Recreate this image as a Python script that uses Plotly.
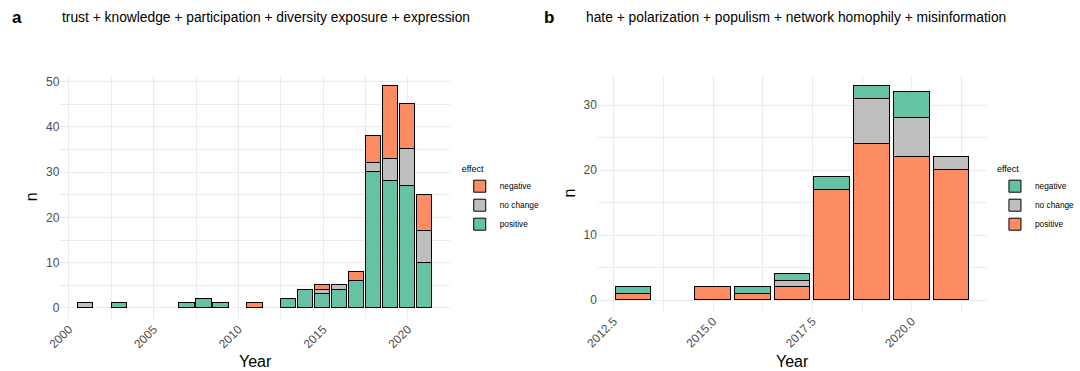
import plotly.graph_objects as go

# ---- data ----
years_a = [2001, 2003, 2007, 2008, 2009, 2011, 2013, 2014, 2015, 2016, 2017, 2018, 2019, 2020, 2021]
positive_a = [0, 1, 1, 2, 1, 0, 2, 4, 3, 4, 6, 30, 28, 27, 10]
nochange_a = [1, 0, 0, 0, 0, 0, 0, 0, 1, 1, 0, 2, 5, 8, 7]
negative_a = [0, 0, 0, 0, 0, 1, 0, 0, 1, 0, 2, 6, 16, 10, 8]

years_b = [2013, 2015, 2016, 2017, 2018, 2019, 2020, 2021]
positive_b = [1, 2, 1, 2, 17, 24, 22, 20]
nochange_b = [0, 0, 0, 1, 0, 7, 6, 2]
negative_b = [1, 0, 1, 1, 2, 2, 4, 0]

title_a = "trust + knowledge + participation + diversity exposure + expression"
title_b = "hate + polarization + populism + network homophily + misinformation"

GREEN = "#66C2A5"
ORANGE = "#FC8D62"
GREY = "#BEBEBE"
FONT = "Liberation Sans, Arial, Helvetica, sans-serif"


def nz(vals):
    return [v if v else None for v in vals]


fig = go.Figure()

for name, vals, col in [("positive", positive_a, GREEN),
                        ("no change", nochange_a, GREY),
                        ("negative", negative_a, ORANGE)]:
    fig.add_trace(go.Bar(x=years_a, y=nz(vals), name=name, width=0.9,
                         marker=dict(color=col, line=dict(color="black", width=1)),
                         xaxis="x", yaxis="y", legend="legend"))

for name, vals, col in [("positive", positive_b, ORANGE),
                        ("no change", nochange_b, GREY),
                        ("negative", negative_b, GREEN)]:
    fig.add_trace(go.Bar(x=years_b, y=nz(vals), name=name, width=0.9,
                         marker=dict(color=col, line=dict(color="black", width=1)),
                         xaxis="x2", yaxis="y2", legend="legend2"))

W, H = 1080, 371
W_EFF = 1064  # effective drawn width observed in the viewer
def px(x):
    return x / W_EFF
def py(y):
    return 1 - y / H

grid = "#EBEBEB"
tickfont = dict(family=FONT, size=12, color="#4D4D4D")

axis_common = dict(showline=False, zeroline=False, ticks="", showgrid=True,
                   gridcolor=grid, gridwidth=1, tickfont=tickfont,
                   automargin=False)

fig.update_layout(
    width=W, height=H, autosize=False,
    margin=dict(l=0, r=0, t=0, b=0),
    paper_bgcolor="white", plot_bgcolor="white",
    barmode="stack", bargap=0,
    font=dict(family=FONT, color="black"),
    xaxis=dict(domain=[px(61.7), px(459.3)], range=[1999.5, 2022.5],
               tickvals=[2000, 2005, 2010, 2015, 2020], tickangle=-45,
               minor=dict(tickvals=[2002.5, 2007.5, 2012.5, 2017.5, 2022.5],
                          showgrid=True, gridcolor=grid, gridwidth=0.6),
               anchor="y", **axis_common),
    yaxis=dict(domain=[py(319), py(75)], range=[-2.45, 51.45],
               tickvals=[0, 10, 20, 30, 40, 50],
               minor=dict(tickvals=[5, 15, 25, 35, 45],
                          showgrid=True, gridcolor=grid, gridwidth=0.6),
               anchor="x", **axis_common),
    xaxis2=dict(domain=[px(610), px(1007)], range=[2012.105, 2021.895],
                tickvals=[2012.5, 2015.0, 2017.5, 2020.0],
                ticktext=["2012.5", "2015.0", "2017.5", "2020.0"], tickangle=-45,
                minor=dict(tickvals=[2013.75, 2016.25, 2018.75, 2021.25],
                           showgrid=True, gridcolor=grid, gridwidth=0.6),
                anchor="y2", **axis_common),
    yaxis2=dict(domain=[py(311), py(75)], range=[-1.65, 34.65],
                tickvals=[0, 10, 20, 30],
                minor=dict(tickvals=[5, 15, 25],
                           showgrid=True, gridcolor=grid, gridwidth=0.6),
                anchor="x2", **axis_common),
    legend=dict(x=px(469), y=py(160), xanchor="left", yanchor="top",
                traceorder="reversed", bgcolor="rgba(0,0,0,0)",
                title=dict(text="effect", font=dict(size=9, family=FONT)),
                font=dict(size=8.3, family=FONT), itemwidth=30,
                tracegroupgap=0),
    legend2=dict(x=px(1015), y=py(160), xanchor="left", yanchor="top",
                 traceorder="reversed", bgcolor="rgba(0,0,0,0)",
                 title=dict(text="effect", font=dict(size=9, family=FONT)),
                 font=dict(size=8.3, family=FONT), itemwidth=30,
                 tracegroupgap=0),
    showlegend=True,
)

annotations = [
    dict(text="<b>a</b>", x=px(10), y=py(18), xanchor="left", yanchor="middle",
         font=dict(size=17, family=FONT)),
    dict(text=title_a, x=px(61), y=py(17), xanchor="left", yanchor="middle",
         font=dict(size=13.8, family=FONT)),
    dict(text="<b>b</b>", x=px(553), y=py(18), xanchor="left", yanchor="middle",
         font=dict(size=17, family=FONT)),
    dict(text=title_b, x=px(596), y=py(17), xanchor="left", yanchor="middle",
         font=dict(size=13.8, family=FONT)),
    dict(text="Year", x=px(260.5), y=py(361), xanchor="center", yanchor="middle",
         font=dict(size=16, family=FONT)),
    dict(text="Year", x=px(808.5), y=py(361), xanchor="center", yanchor="middle",
         font=dict(size=16, family=FONT)),
    dict(text="n", x=px(32), y=py(197), xanchor="center", yanchor="middle",
         textangle=-90, font=dict(size=16, family=FONT)),
    dict(text="n", x=px(580), y=py(193), xanchor="center", yanchor="middle",
         textangle=-90, font=dict(size=16, family=FONT)),
]
for a in annotations:
    a.update(xref="paper", yref="paper", showarrow=False)
fig.update_layout(annotations=annotations)

post = """
document.documentElement.style.overflow='hidden';
document.body.style.margin='0';
document.body.style.overflow='hidden';
"""

fig.write_html("out.html",
               config={"displayModeBar": False, "responsive": False},
               post_script=post)
